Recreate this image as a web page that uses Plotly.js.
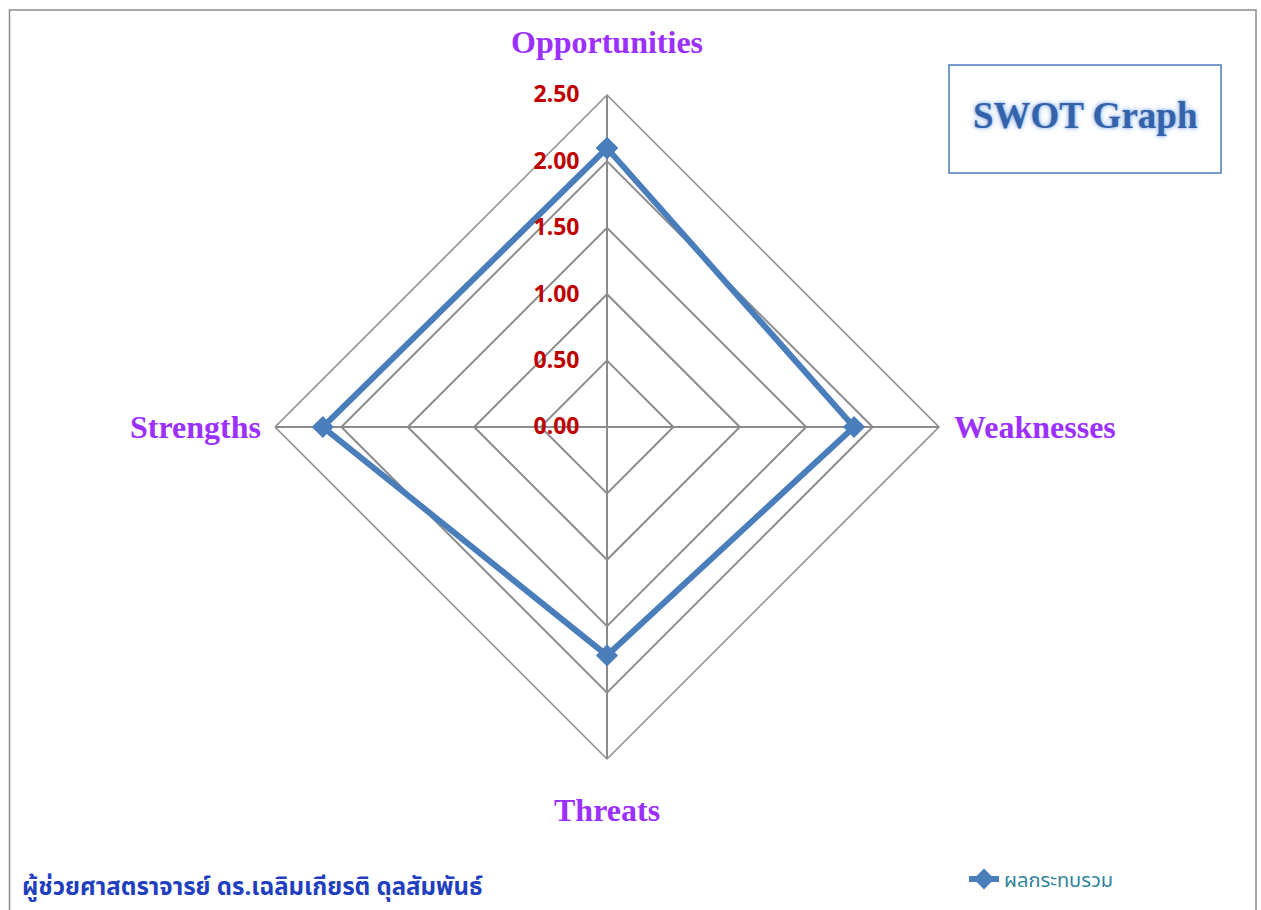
<!DOCTYPE html>
<html>
<head>
<meta charset="utf-8">
<script src="https://cdn.plot.ly/plotly-3.0.1.min.js"></script>
<style>html,body{margin:0;padding:0;background:#fff;}#chart{width:1261px;height:910px;}</style>
</head>
<body>
<div id="chart"></div>
<script>
// ---- data ----
const categories = ["Opportunities", "Weaknesses", "Threats", "Strengths"];
const values = [2.10, 1.86, 1.72, 2.14];
const seriesName = "ผลกระทบรวม";
const radialTicks = [0, 0.5, 1.0, 1.5, 2.0, 2.5];
const boxTitle = "SWOT Graph";
const footerText = "ผู้ช่วยศาสตราจารย์ ดร.เฉลิมเกียรติ ดุลสัมพันธ์";

const W = 1261, H = 910;
const cx = 607, cy = 427, R = 332;

const trace = {
  type: "scatterpolar",
  r: values.concat([values[0]]),
  theta: categories.concat([categories[0]]),
  mode: "lines+markers",
  name: seriesName,
  line: {color: "#4A7EBB", width: 6},
  marker: {symbol: "diamond", size: 17, color: "#4A7EBB"},
  showlegend: true
};

const labelFont = {family: "Liberation Serif, Times New Roman, serif", size: 32, color: "#9B30FF", weight: "bold"};
const annotations = [
  {text: "<b>" + categories[0] + "</b>", x: cx / W, y: (H - 42) / H, xanchor: "center", yanchor: "middle"},
  {text: "<b>" + categories[1] + "</b>", x: 952 / W, y: (H - 427) / H, xanchor: "left", yanchor: "middle"},
  {text: "<b>" + categories[2] + "</b>", x: cx / W, y: (H - 810) / H, xanchor: "center", yanchor: "middle"},
  {text: "<b>" + categories[3] + "</b>", x: 263 / W, y: (H - 427) / H, xanchor: "right", yanchor: "middle"}
].map(a => Object.assign(a, {xref: "paper", yref: "paper", showarrow: false, font: labelFont}));

annotations.push({
  text: "<b>" + boxTitle + "</b>", xref: "paper", yref: "paper",
  x: 1085 / W, y: (H - 115) / H, xanchor: "center", yanchor: "middle", showarrow: false,
  font: {family: "Liberation Serif, serif", size: 37, color: "#3563AA", shadow: "0 0 3px #7FA9E6, 0 0 6px #A9C6F0"}
});
annotations.push({
  text: "<b>" + footerText + "</b>", xref: "paper", yref: "paper",
  x: 20 / W, y: (H - 888) / H, xanchor: "left", yanchor: "middle", showarrow: false,
  font: {family: "Noto Sans Thai, Noto Sans, DejaVu Sans, sans-serif", size: 24, color: "#1F3FBF"}
});

const layout = {
  width: W, height: H,
  margin: {l: 0, r: 0, t: 0, b: 0},
  paper_bgcolor: "#fff",
  showlegend: true,
  legend: {x: 964 / W, y: (H - 879) / H, xanchor: "left", yanchor: "middle",
    font: {family: "Noto Sans Thai, Noto Sans, DejaVu Sans, sans-serif", size: 20, color: "#31849B"},
    bgcolor: "rgba(0,0,0,0)"},
  polar: {
    domain: {x: [(cx - R) / W, (cx + R) / W], y: [(H - cy - R) / H, (H - cy + R) / H]},
    gridshape: "linear",
    bgcolor: "#fff",
    radialaxis: {
      range: [0, 2.5], tickvals: radialTicks, tickformat: ".2f",
      angle: 90, side: "counterclockwise", tickangle: 90,
      showline: false, gridcolor: "#8C8C8C", gridwidth: 1.5,
      ticks: "outside", ticklen: 19, tickcolor: "rgba(0,0,0,0)",
      tickfont: {family: "Noto Sans, Open Sans, sans-serif", size: 23, color: "#C00000", weight: "bold"},
      layer: "above traces"
    },
    angularaxis: {
      rotation: 90, direction: "clockwise",
      showticklabels: false, ticks: "",
      showline: true, linecolor: "#8C8C8C", linewidth: 1.5,
      gridcolor: "#8C8C8C", gridwidth: 1.5
    }
  },
  shapes: [
    {type: "rect", xref: "paper", yref: "paper", x0: 9.5 / W, x1: 1256 / W, y0: -0.02, y1: (H - 10) / H,
     line: {color: "#8C8C8C", width: 1.5}, fillcolor: "rgba(0,0,0,0)", layer: "below"},
    {type: "rect", xref: "paper", yref: "paper", x0: 949 / W, x1: 1221 / W, y0: (H - 173) / H, y1: (H - 65) / H,
     line: {color: "#4A7EBB", width: 1.5}, fillcolor: "rgba(0,0,0,0)"}
  ],
  annotations: annotations
};

Plotly.newPlot("chart", [trace], layout, {displayModeBar: false});
</script>
</body>
</html>
